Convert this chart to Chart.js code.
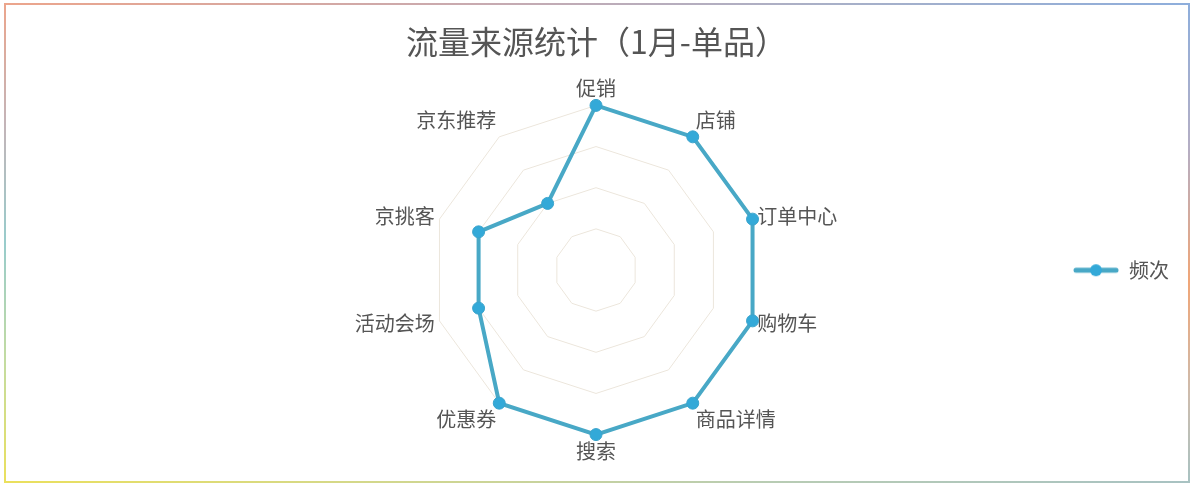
<!DOCTYPE html>
<html>
<head>
<meta charset="utf-8">
<title>流量来源统计</title>
<script src="https://cdn.jsdelivr.net/npm/chart.js@4.4.1/dist/chart.umd.min.js"></script>
<style>
  html, body { margin: 0; padding: 0; background: #fff; }
  #wrap { position: relative; width: 1193px; height: 500px; overflow: hidden; }
  canvas { position: absolute; left: 0; top: 0; }
  .edge { position: absolute; }
  #eTop { left: 4px; top: 3px; width: 1186px; height: 2px; background: linear-gradient(to right, #eca58c, #c8aab0 40%, #a8b0c8 70%, #8eaedc); }
  #eBottom { left: 4px; top: 481px; width: 1186px; height: 2px; background: linear-gradient(to right, #ebe05c, #d4d88a 30%, #b8ccb4 65%, #a8c2c2); }
  #eLeft { left: 4px; top: 3px; width: 2px; height: 480px; background: linear-gradient(to bottom, #eca58c, #c4b4b8 25%, #98cccc 50%, #c4dca0 75%, #ebe05c); }
  #eRight { left: 1188px; top: 3px; width: 2px; height: 480px; background: linear-gradient(to bottom, #8eaedc, #b4aec4 30%, #f0a678 58%, #ccbcae 82%, #a8c2c2); }
</style>
</head>
<body>
<div id="wrap">
  <canvas id="grafico" width="1193" height="500"></canvas>
  <div class="edge" id="eTop"></div>
  <div class="edge" id="eBottom"></div>
  <div class="edge" id="eLeft"></div>
  <div class="edge" id="eRight"></div>
</div>
<script>
// --- datos ---
const categorias = ["促销", "店铺", "订单中心", "购物车", "商品详情", "搜索", "优惠券", "活动会场", "京挑客", "京东推荐"];
const frecuencia = [4, 4, 4, 4, 4, 4, 4, 3, 3, 2];
const serieNombre = "频次";
const titulo = "流量来源统计（1月-单品）";
const escalaMax = 4;
const escalaPaso = 1;

const FUENTE = "'Noto Sans CJK SC', 'Noto Sans', sans-serif";
const colorLinea = "#48a8c6";
const colorPunto = "#33a9d8";
const colorTexto = "#555";

// etiquetas laterales centradas en vertical
const lateral = [2, 3, 7, 8];

// marcador de leyenda: línea con círculo
const marca = document.createElement("canvas");
marca.width = 46;
marca.height = 16;
(function () {
  const c = marca.getContext("2d");
  c.strokeStyle = colorLinea;
  c.lineWidth = 5;
  c.lineCap = "round";
  c.beginPath();
  c.moveTo(3, 8);
  c.lineTo(43, 8);
  c.stroke();
  c.fillStyle = colorPunto;
  c.beginPath();
  c.arc(23, 8, 6, 0, Math.PI * 2);
  c.fill();
})();

const ctx = document.getElementById("grafico").getContext("2d");
const grafico = new Chart(ctx, {
  type: "radar",
  data: {
    labels: categorias,
    datasets: [{
      label: serieNombre,
      data: frecuencia,
      borderColor: colorLinea,
      borderWidth: 4,
      fill: false,
      backgroundColor: "rgba(0,0,0,0)",
      pointRadius: 6,
      pointBorderWidth: 1,
      pointBorderColor: "#3ba4cc",
      pointBackgroundColor: colorPunto,
      tension: 0
    }]
  },
  options: {
    responsive: false,
    animation: false,
    layout: { padding: { top: 10, bottom: 36, left: 14, right: 14 } },
    plugins: {
      title: {
        display: true,
        text: titulo,
        color: colorTexto,
        font: { size: 32, weight: "normal", family: FUENTE },
        padding: { top: 13, bottom: 15 }
      },
      // separador invisible a la izquierda para centrar el radar
      subtitle: {
        display: true,
        text: "",
        position: "left",
        fullSize: false,
        font: { size: 10, lineHeight: 1 },
        padding: { top: 106, bottom: 0 }
      },
      legend: {
        position: "right",
        fullSize: false,
        align: "center",
        labels: {
          usePointStyle: true,
          pointStyleWidth: 46,
          padding: 10,
          color: colorTexto,
          font: { size: 20, family: FUENTE },
          generateLabels: () => [{
            text: serieNombre,
            pointStyle: marca,
            fillStyle: colorPunto,
            strokeStyle: colorLinea,
            lineWidth: 0,
            hidden: false,
            datasetIndex: 0,
            fontColor: colorTexto
          }]
        }
      },
      tooltip: { enabled: false }
    },
    scales: {
      r: {
        min: 0,
        max: escalaMax,
        ticks: { display: false, stepSize: escalaPaso },
        angleLines: { display: false },
        grid: { color: "#ece6dc", lineWidth: 1, circular: false },
        pointLabels: {
          color: colorTexto,
          padding: 5,
          font: (c) => ({
            size: 20,
            family: FUENTE,
            lineHeight: lateral.includes(c.index) ? 0.1 : 1.2
          })
        }
      }
    }
  }
});
</script>
</body>
</html>
